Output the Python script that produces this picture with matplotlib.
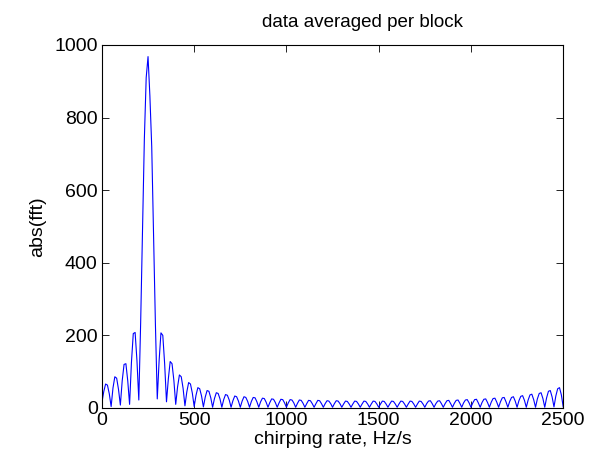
import numpy as np
import matplotlib
matplotlib.use("Agg")
import matplotlib.pyplot as plt

# abs(fft) samples, one row per 50 Hz/s block (samples every 10 Hz/s)
fft_rows = [
    [15, 45, 66, 63, 39],
    [4, 55, 86, 82, 51],
    [8, 75, 120, 122, 75],
    [10, 125, 205, 208, 130],
    [22, 235, 495, 740, 910],
    [968, 860, 720, 480, 230],
    [25, 130, 207, 200, 122],
    [17, 80, 128, 122, 76],
    [10, 58, 91, 86, 54],
    [6, 44, 70, 66, 41],
    [4, 35, 56, 53, 33],
    [3, 30, 48, 46, 28],
    [2, 26, 42, 40, 25],
    [2, 23, 37, 35, 22],
    [2, 20, 33, 31, 19],
    [2, 19, 31, 29, 18],
    [2, 18, 29, 28, 17],
    [2, 17, 27, 26, 16],
    [2, 15, 25, 24, 15],
    [2, 14, 24, 23, 14],
    [2, 14, 23, 22, 14],
    [2, 13, 22, 21, 13],
    [2, 12, 21, 20, 12],
    [2, 12, 21, 20, 12],
    [2, 12, 20, 19, 12],
    [2, 12, 20, 19, 12],
    [2, 11, 19, 18, 11],
    [2, 11, 19, 18, 11],
    [2, 11, 19, 18, 11],
    [2, 11, 19, 18, 11],
    [2, 11, 19, 18, 11],
    [2, 11, 19, 18, 11],
    [2, 11, 19, 18, 11],
    [2, 11, 19, 18, 11],
    [2, 11, 19, 18, 11],
    [2, 12, 19, 20, 12],
    [2, 12, 19, 20, 12],
    [2, 12, 20, 21, 12],
    [2, 13, 21, 22, 13],
    [2, 14, 22, 23, 14],
    [2, 14, 23, 24, 14],
    [2, 15, 24, 25, 15],
    [2, 16, 26, 27, 16],
    [2, 17, 28, 29, 17],
    [2, 18, 29, 31, 19],
    [2, 20, 32, 34, 21],
    [2, 22, 36, 38, 23],
    [2, 25, 40, 42, 26],
    [2, 28, 46, 48, 30],
    [3, 33, 53, 56, 36],
]
fft_last = [3]

x_ticks = [0, 500, 1000, 1500, 2000, 2500]
y_ticks = [0, 200, 400, 600, 800, 1000]

y = np.array([v for row in fft_rows for v in row] + fft_last, dtype=float)
rate = np.linspace(0, 2500, len(y))

plt.rcParams["font.family"] = ["Liberation Sans", "DejaVu Sans"]

fig = plt.figure(figsize=(6.03, 4.66), dpi=100)
ax = fig.add_axes([0.169, 0.1245, 0.765, 0.779])

ax.plot(rate, y, color="blue", linewidth=0.8)

ax.set_xlim(0, 2500)
ax.set_ylim(0, 1000)
ax.set_xticks(x_ticks)
ax.set_yticks(y_ticks)
ax.tick_params(direction="in", top=True, right=True, length=5, width=0.6,
               labelsize=14, pad=3)
for s in ax.spines.values():
    s.set_linewidth(0.8)

ax.set_title("data averaged per block", fontsize=13.5, pad=13, x=0.566)
ax.set_xlabel("chirping rate, Hz/s", fontsize=14, labelpad=1)
ax.set_ylabel("abs(fft)", fontsize=14, labelpad=6)

fig.savefig("out.png", dpi=100)
